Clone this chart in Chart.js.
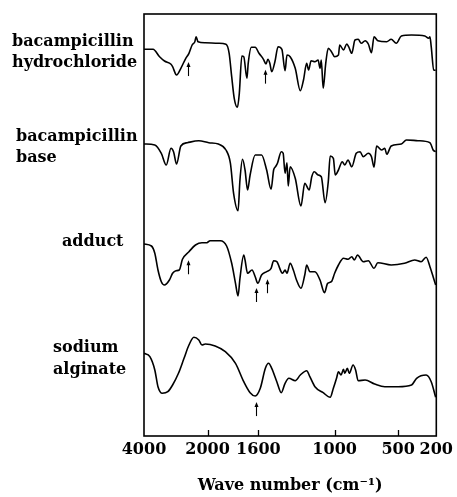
<!DOCTYPE html>
<html>
<head>
<meta charset="utf-8">
<script src="https://cdn.jsdelivr.net/npm/chart.js@4"></script>
<style>
  html, body { margin: 0; padding: 0; background: #fff; }
</style>
</head>
<body>
<canvas id="irChart" width="457" height="497"></canvas>
<script>
const sampleNames = [['bacampicillin', 'hydrochloride'], ['bacampicillin', 'base'], ['adduct'], ['sodium', 'alginate']];
const tickLabels = [4000, 2000, 1600, 1000, 500, 200];

// wavenumber (cm-1) and relative transmittance
const hclWn = [4000, 3715, 3510, 3355, 3150, 3100, 2975, 2840, 2685, 2585, 2485, 2400, 2360, 2300, 2070, 1915, 1855, 1830, 1810, 1790, 1765, 1750, 1730, 1715, 1690, 1680, 1655, 1625, 1595, 1560, 1540, 1525, 1510, 1495, 1470, 1445, 1415, 1390, 1375, 1350, 1310, 1270, 1245, 1220, 1205, 1185, 1155, 1130, 1115, 1105, 1090, 1070, 1050, 1025, 1000, 970, 960, 930, 905, 890, 865, 840, 815, 790, 760, 735, 710, 690, 660, 590, 555, 515, 475, 395, 290, 260, 250, 240, 220, 205];
const hclT = [0, 0, -7.4, -11.7, -15, -17.4, -25.7, -19, -9, -4, 4.3, 7.6, 12.6, 7.6, 6.6, 6, 5, -4, -27.4, -49, -58, -44, -6.7, -7.4, -29, -14, 2, 2, -4, -10, -14.7, -10, -14, -22.4, -12.4, 2.6, 0, -21.4, -5.7, -7.4, -19, -41.4, -30.7, -14, -20.7, -11.4, -12.4, -10.7, -19, -10.7, -39, -14, 1, -2.4, -7.4, -5.7, 4.3, -0.7, 5.3, 2.6, -4, 9.3, 10, 6, 8.6, 5.3, -3.4, 12.6, 8.6, 7.6, 10, 6, 13.3, 14.3, 13.3, 11, 12.6, 2.6, -20.7, -21];

const baseWn = [4000, 3660, 3455, 3300, 3150, 3070, 2975, 2840, 2635, 2275, 1990, 1915, 1855, 1820, 1795, 1760, 1745, 1725, 1705, 1685, 1665, 1625, 1575, 1535, 1500, 1480, 1465, 1450, 1420, 1405, 1390, 1375, 1365, 1350, 1310, 1265, 1235, 1200, 1180, 1160, 1130, 1105, 1075, 1050, 1035, 1010, 995, 970, 940, 920, 895, 865, 830, 800, 775, 735, 710, 690, 670, 630, 605, 590, 555, 475, 435, 345, 250, 240, 225, 205];
const baseT = [0, -1, -9.3, -21, -4.3, -7.7, -20, -2, 1.3, 3.3, 1.3, 0, -6, -19.3, -49.3, -66.7, -36, -15.3, -26, -46, -31, -11, -11, -26, -45.3, -26, -22.7, -19.3, -7.7, -9.3, -29.3, -18.7, -42, -22.7, -34.3, -62, -39.3, -46, -32.7, -27.7, -31, -32.7, -58.7, -37.7, -12, -14.3, -31, -26, -17.7, -21, -16, -22.7, -9.3, -7.7, -12.7, -9.3, -12.7, -23.3, -2, -6, -4.3, -10.3, -2, 0, 4, 3.3, 1.3, -1, -6, -7.7];

const adductWn = [4000, 3765, 3660, 3560, 3455, 3355, 3200, 3100, 2995, 2890, 2790, 2585, 2380, 2175, 2020, 1980, 1900, 1850, 1810, 1780, 1760, 1745, 1715, 1705, 1685, 1650, 1625, 1605, 1575, 1535, 1500, 1480, 1455, 1410, 1390, 1375, 1350, 1325, 1300, 1265, 1235, 1220, 1195, 1155, 1115, 1080, 1055, 1025, 1000, 970, 930, 895, 865, 845, 820, 775, 735, 690, 660, 555, 450, 370, 320, 280, 250, 225, 205];
const adductT = [0, -2, -9.3, -26, -37.7, -41, -36, -29.3, -26.7, -26, -15.3, -7.7, -1, 1.3, 1.3, 3.3, 3.3, -2, -19.3, -39.3, -52, -34.3, -11, -16, -29.3, -26, -32.7, -39.3, -31, -27.7, -24.3, -16.7, -17.7, -29.3, -26, -29.3, -19.3, -26, -36, -44.3, -31, -21, -27.7, -27.7, -36, -48.7, -39.3, -37.7, -29.3, -21, -14.3, -15.3, -12.7, -16, -11, -17.7, -16.7, -24.3, -18.7, -21, -19.3, -16, -17.7, -13.3, -22.7, -32.7, -41];

const alginateWn = [4000, 3815, 3660, 3560, 3425, 3250, 3100, 2915, 2740, 2585, 2430, 2275, 2175, 2070, 1940, 1860, 1780, 1715, 1665, 1625, 1585, 1545, 1520, 1495, 1455, 1420, 1390, 1360, 1310, 1270, 1220, 1195, 1155, 1090, 1035, 1010, 985, 970, 950, 930, 920, 900, 885, 855, 835, 815, 760, 685, 605, 500, 395, 355, 280, 240, 205];
const alginateT = [0, -3.4, -16.7, -33.4, -40, -38.4, -31.7, -20, -5, 8.3, 16, 13.3, 8.3, 9.3, 7.3, 1.6, -10, -28.4, -39.4, -42.7, -35, -15, -10, -15, -28.4, -39.4, -30, -25, -27.4, -21.7, -17.4, -23.4, -33.4, -39.4, -44, -35, -25, -18.4, -21.7, -16, -20, -15, -20, -11.7, -16.7, -27.4, -26.7, -30.7, -33.4, -33.4, -31.7, -25, -21.7, -28.4, -44];

// arrows marking bands: [spectrum index, wavenumber]
const arrowMarks = [[0, 2600], [0, 1550], [2, 2600], [2, 1615], [2, 1530], [3, 1615]];

// vertical offset of each spectrum on the stacked plot
const traceOffsets = [386.7, 292, 192, 82.7];

// grating change at 2000 cm-1: the 4000-2000 range is drawn at a quarter scale
function toU(w) {
    return w >= 2000 ? (4000 - w) / 4 : 500 + (2000 - w);
}

const spectra = [[hclWn, hclT], [baseWn, baseT], [adductWn, adductT], [alginateWn, alginateT]];

const datasets = spectra.map(([wn, t], k) => ({
    label: sampleNames[k].join(' '),
    data: wn.map((w, i) => ({ x: toU(w), y: traceOffsets[k] + t[i] })),
    borderColor: '#000',
    borderWidth: 1.6,
    pointRadius: 0,
    cubicInterpolationMode: 'monotone',
    fill: false
}));

const serif = '"DejaVu Serif", "Liberation Serif", serif';

const labelLayout = [
    { x: 12, y: [42, 63] },
    { x: 16, y: [137, 158] },
    { x: 62, y: [242] },
    { x: 53, y: [348, 370] }
];

const frameAndMarks = {
    id: 'frameAndMarks',
    afterDatasetsDraw(chart) {
        const { ctx, chartArea: a, scales } = chart;
        const xs = scales.x;
        ctx.save();
        ctx.strokeStyle = '#000';
        ctx.fillStyle = '#000';

        // frame
        ctx.lineWidth = 1.6;
        ctx.strokeRect(a.left, a.top, a.right - a.left, a.bottom - a.top);

        // inward tick marks
        ctx.lineWidth = 1.3;
        tickLabels.slice(1, -1).forEach(w => {
            const px = Math.round(xs.getPixelForValue(toU(w))) + 0.5;
            ctx.beginPath();
            ctx.moveTo(px, a.bottom);
            ctx.lineTo(px, a.bottom - 6);
            ctx.stroke();
        });

        // arrows just under the spectrum line
        ctx.lineWidth = 1.1;
        arrowMarks.forEach(([k, w]) => {
            const pts = chart.getDatasetMeta(k).data;
            const px = xs.getPixelForValue(toU(w));
            let py = pts[0].y;
            for (let i = 1; i < pts.length; i++) {
                if (pts[i].x >= px) {
                    const p0 = pts[i - 1], p1 = pts[i];
                    py = p0.y + (p1.y - p0.y) * (px - p0.x) / (p1.x - p0.x);
                    break;
                }
            }
            const head = py + 8, tail = head + 14;
            const x = Math.round(px) + 0.5;
            ctx.beginPath();
            ctx.moveTo(x, tail);
            ctx.lineTo(x, head + 3);
            ctx.stroke();
            ctx.beginPath();
            ctx.moveTo(x, head);
            ctx.lineTo(x - 2, head + 5);
            ctx.lineTo(x + 2, head + 5);
            ctx.closePath();
            ctx.fill();
        });

        // sample names
        ctx.font = 'bold 16px ' + serif;
        ctx.textBaseline = 'middle';
        ctx.textAlign = 'left';
        sampleNames.forEach((lines, k) => {
            lines.forEach((txt, j) => {
                ctx.fillText(txt, labelLayout[k].x, labelLayout[k].y[j]);
            });
        });
        ctx.restore();
    }
};

new Chart(document.getElementById('irChart'), {
    type: 'line',
    data: { datasets },
    options: {
        responsive: false,
        animation: false,
        layout: { padding: { left: 144, right: 19, top: 14, bottom: 0 } },
        plugins: { legend: { display: false }, tooltip: { enabled: false } },
        scales: {
            x: {
                type: 'linear',
                min: 0,
                max: toU(200),
                grid: { display: false, drawTicks: false },
                border: { display: false },
                afterBuildTicks: scale => {
                    scale.ticks = tickLabels.map(w => ({ value: toU(w) }));
                },
                afterFit: scale => { scale.height = 61; },
                ticks: {
                    autoSkip: false,
                    maxRotation: 0,
                    padding: 4,
                    color: '#000',
                    font: { family: serif, size: 16, weight: 'bold' },
                    callback: (val, i) => tickLabels[i]
                },
                title: {
                    display: true,
                    text: 'Wave number (cm\u207B\u00B9)',
                    color: '#000',
                    font: { family: serif, size: 16, weight: 'bold' },
                    padding: { top: 0, bottom: 2 }
                }
            },
            y: { display: false, min: 0, max: 422 }
        }
    },
    plugins: [frameAndMarks]
});
</script>
</body>
</html>
